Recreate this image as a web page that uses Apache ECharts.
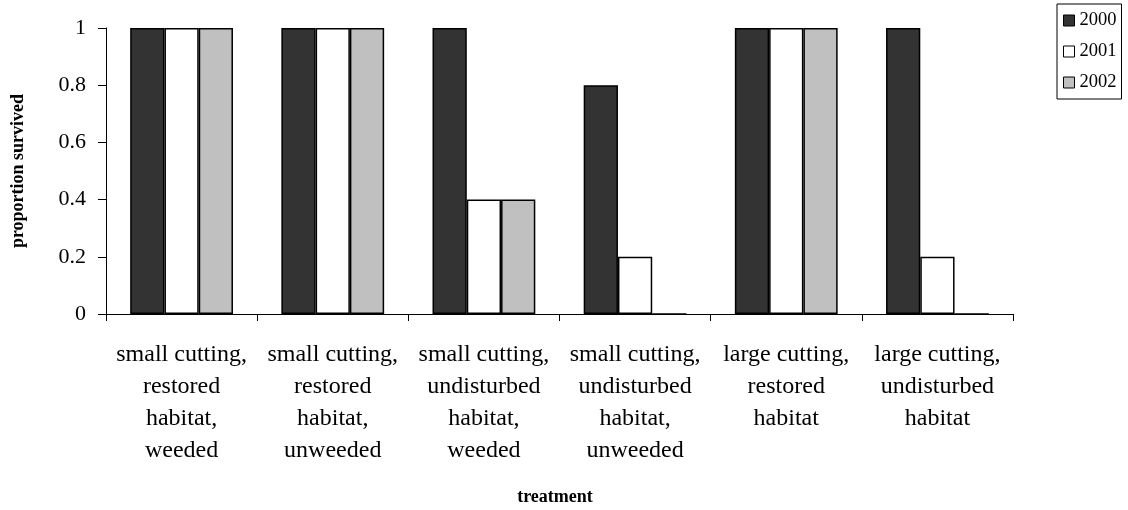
<!DOCTYPE html>
<html>
<head>
<meta charset="utf-8">
<script src="https://cdn.jsdelivr.net/npm/echarts@6/dist/echarts.min.js"></script>
<style>
  html, body { margin: 0; padding: 0; background: #fff; }
  #chart { width: 1128px; height: 510px; }
</style>
</head>
<body>
<div id="chart"></div>
<script>
const categories = [
  'small cutting,\nrestored\nhabitat,\nweeded',
  'small cutting,\nrestored\nhabitat,\nunweeded',
  'small cutting,\nundisturbed\nhabitat,\nweeded',
  'small cutting,\nundisturbed\nhabitat,\nunweeded',
  'large cutting,\nrestored\nhabitat',
  'large cutting,\nundisturbed\nhabitat'
]
const years = ['2000', '2001', '2002']
const y2000 = [1, 1, 1, 0.8, 1, 1]
const y2001 = [1, 1, 0.4, 0.2, 1, 0.2]
const y2002 = [1, 1, 0.4, 0, 1, 0]

const colors = ['#333333', '#ffffff', '#c0c0c0']
const font = "'Liberation Serif', 'Times New Roman', serif"

const chart = echarts.init(document.getElementById('chart'))

const barSeries = [y2000, y2001, y2002].map((data, i) => ({
  name: years[i],
  type: 'bar',
  data: data,
  barGap: '0%',
  barCategoryGap: '32%',
  itemStyle: {
    color: colors[i],
    borderColor: '#000',
    borderWidth: 1.5
  }
}))

chart.setOption({
  backgroundColor: '#fff',
  animation: false,
  textStyle: { fontFamily: font },
  grid: {
    left: 106,
    right: 115,
    top: 28,
    bottom: 196,
    containLabel: false,
    outerBoundsMode: 'none'
  },
  legend: {
    data: years,
    orient: 'vertical',
    left: 1057,
    top: 4,
    padding: [7, 5, 7, 6],
    itemGap: 12,
    itemWidth: 11,
    itemHeight: 11,
    icon: 'rect',
    borderColor: '#000',
    borderWidth: 1,
    borderRadius: 0,
    itemStyle: { borderColor: '#000', borderWidth: 1 },
    textStyle: { fontFamily: font, fontSize: 18.5, lineHeight: 18, color: '#000' }
  },
  xAxis: {
    type: 'category',
    data: categories,
    name: 'treatment',
    nameLocation: 'middle',
    nameGap: 174,
    nameTextStyle: { fontFamily: font, fontSize: 18, fontWeight: 'bold', color: '#000', padding: [0, 9, 0, 0] },
    axisLine: { lineStyle: { color: '#000', width: 1 } },
    axisTick: { show: true, length: 7, lineStyle: { color: '#000' } },
    axisLabel: {
      interval: 0,
      margin: 25,
      fontFamily: font,
      fontSize: 24,
      lineHeight: 32,
      color: '#000'
    }
  },
  yAxis: {
    type: 'value',
    min: 0,
    max: 1,
    interval: 0.2,
    name: 'proportion survived',
    nameLocation: 'middle',
    nameGap: 79,
    nameTextStyle: { fontFamily: font, fontSize: 18, fontWeight: 'bold', color: '#000' },
    axisLine: { show: true, lineStyle: { color: '#000', width: 1 } },
    axisTick: { show: true, length: 8, lineStyle: { color: '#000' } },
    splitLine: { show: false },
    axisLabel: {
      margin: 20,
      fontFamily: font,
      fontSize: 22,
      color: '#000',
      formatter: v => String(Math.round(v * 10) / 10)
    }
  },
  series: barSeries
})
</script>
</body>
</html>
